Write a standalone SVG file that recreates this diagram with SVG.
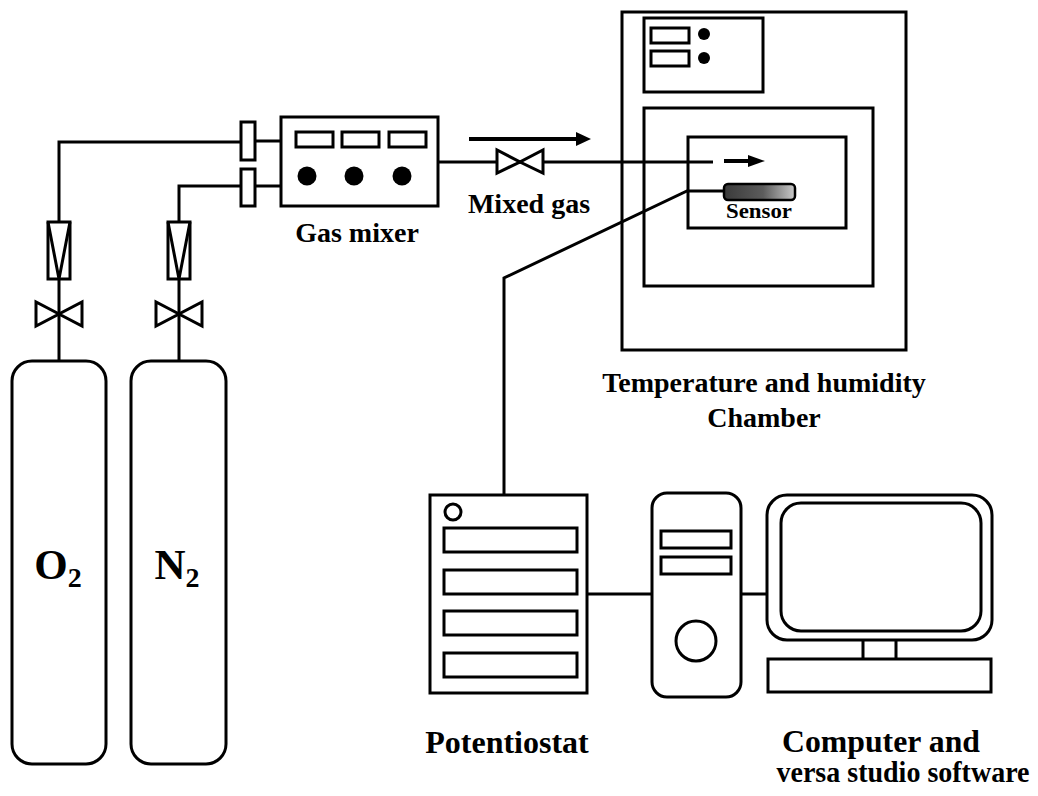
<svg xmlns="http://www.w3.org/2000/svg" width="1038" height="796" viewBox="0 0 1038 796">
  <style>
    .ln { fill: none; stroke: #000; stroke-width: 3; }
    .bx { fill: #fff; stroke: #000; stroke-width: 3; }
    .dot { fill: #000; }
    .lbl { font-family: "Liberation Serif", "Times New Roman", serif; font-weight: bold; fill: #000; text-anchor: middle; }
    .arr { fill: none; stroke: #000; stroke-width: 4; }
  </style>
  <defs>
    <linearGradient id="sensorGrad" x1="0" y1="0" x2="1" y2="0">
      <stop offset="0" stop-color="#3a3a3a"/>
      <stop offset="0.55" stop-color="#5c5c5c"/>
      <stop offset="1" stop-color="#cacaca"/>
    </linearGradient>
  </defs>
  <rect width="1038" height="796" fill="#fff"/>

  <!-- pipes and cables -->
  <g id="connectors">
    <path class="ln" d="M59,361 V279 M59,222 V142 H241"/>
    <path class="ln" d="M179,361 V279 M179,222 V186 H241"/>
    <path class="ln" d="M255,141 H281 M255,186 H281"/>
    <path class="ln" d="M438,162 H713"/>
    <path class="ln" d="M724,191 H687 L504,278 V495"/>
    <path class="ln" d="M587,594 H652 M741,594 H767"/>
    <!-- flow direction arrows -->
    <path class="arr" d="M469,139 H578"/>
    <polygon points="576,132 591,139 576,146" fill="#000"/>
    <path class="arr" d="M724,161 H750"/>
    <polygon points="748,155 765,161 748,167" fill="#000"/>
  </g>

  <!-- gas cylinders -->
  <g id="cyl-o2">
    <rect class="bx" x="12" y="361" width="94" height="403" rx="20"/>
    <text class="lbl" x="58" y="579" font-size="43">O<tspan font-size="28" dy="8">2</tspan></text>
  </g>
  <g id="cyl-n2">
    <rect class="bx" x="131" y="361" width="95" height="403" rx="20"/>
    <text class="lbl" x="177" y="579" font-size="43">N<tspan font-size="28" dy="8">2</tspan></text>
  </g>

  <!-- flowmeters -->
  <g id="flow-o2">
    <rect class="bx" x="48" y="222" width="22" height="57"/>
    <path class="ln" d="M48,222 L59,279 L70,222"/>
  </g>
  <g id="flow-n2">
    <rect class="bx" x="168" y="222" width="22" height="57"/>
    <path class="ln" d="M168,222 L179,279 L190,222"/>
  </g>

  <!-- cylinder valves -->
  <g id="valve-o2">
    <polygon class="bx" points="36,302 36,326 59,314"/>
    <polygon class="bx" points="82,302 82,326 59,314"/>
  </g>
  <g id="valve-n2">
    <polygon class="bx" points="156,302 156,326 179,314"/>
    <polygon class="bx" points="202,302 202,326 179,314"/>
  </g>

  <!-- inlet couplings -->
  <g id="coupling-o2"><rect class="bx" x="241" y="122" width="14" height="38"/></g>
  <g id="coupling-n2"><rect class="bx" x="241" y="169" width="14" height="37"/></g>

  <!-- gas mixer -->
  <g id="gas-mixer">
    <rect class="bx" x="281" y="117" width="157" height="89"/>
    <rect class="bx" x="296" y="132" width="37" height="15"/>
    <rect class="bx" x="342" y="132" width="37" height="15"/>
    <rect class="bx" x="389" y="132" width="37" height="15"/>
    <circle class="dot" cx="307" cy="176" r="9.5"/>
    <circle class="dot" cx="354" cy="176" r="9.5"/>
    <circle class="dot" cx="402" cy="176" r="9.5"/>
    <text class="lbl" x="357" y="242" font-size="28">Gas mixer</text>
  </g>

  <!-- mixed gas valve -->
  <g id="valve-mix">
    <polygon class="bx" points="497,150 497,173 520,162"/>
    <polygon class="bx" points="543,150 543,173 520,162"/>
    <text class="lbl" x="529" y="213" font-size="28">Mixed gas</text>
  </g>

  <!-- temperature and humidity chamber -->
  <g id="chamber">
    <rect class="ln" x="622" y="12" width="284" height="338"/>
    <rect class="ln" x="644" y="18" width="119" height="74"/>
    <rect class="ln" x="651" y="28" width="38" height="15"/>
    <rect class="ln" x="651" y="51" width="38" height="15"/>
    <circle class="dot" cx="704" cy="34" r="6"/>
    <circle class="dot" cx="704" cy="58" r="6"/>
    <rect class="ln" x="644" y="108" width="229" height="178"/>
    <rect class="ln" x="688" y="137" width="158" height="91"/>
    <text class="lbl" x="764" y="392" font-size="28">Temperature and humidity</text>
    <text class="lbl" x="764" y="427" font-size="28">Chamber</text>
  </g>

  <!-- sensor -->
  <g id="sensor">
    <rect x="724" y="184" width="71" height="16" rx="4" fill="url(#sensorGrad)" stroke="#000" stroke-width="2.5"/>
    <text class="lbl" x="759" y="218" font-size="22" textLength="66" lengthAdjust="spacingAndGlyphs">Sensor</text>
  </g>

  <!-- potentiostat -->
  <g id="potentiostat">
    <rect class="bx" x="430" y="495" width="157" height="198"/>
    <circle class="ln" cx="453" cy="512" r="8"/>
    <rect class="ln" x="444" y="528" width="133" height="24"/>
    <rect class="ln" x="444" y="570" width="133" height="24"/>
    <rect class="ln" x="444" y="611" width="133" height="24"/>
    <rect class="ln" x="444" y="653" width="133" height="24"/>
    <text class="lbl" x="507" y="753" font-size="32">Potentiostat</text>
  </g>

  <!-- computer -->
  <g id="computer">
    <rect class="bx" x="652" y="493" width="89" height="204" rx="15"/>
    <rect class="ln" x="661" y="531" width="70" height="17"/>
    <rect class="ln" x="661" y="557" width="70" height="17"/>
    <circle class="ln" cx="696" cy="641" r="20"/>
    <rect class="bx" x="767" y="495" width="225" height="145" rx="20"/>
    <rect class="ln" x="781" y="503" width="200" height="128" rx="20"/>
    <path class="ln" d="M863,640 V659 M896,640 V659"/>
    <rect class="bx" x="768" y="659" width="223" height="33"/>
    <text class="lbl" x="881" y="752" font-size="31" textLength="198" lengthAdjust="spacingAndGlyphs">Computer and</text>
    <text class="lbl" x="903" y="782" font-size="29" textLength="253" lengthAdjust="spacingAndGlyphs">versa studio software</text>
  </g>
</svg>
